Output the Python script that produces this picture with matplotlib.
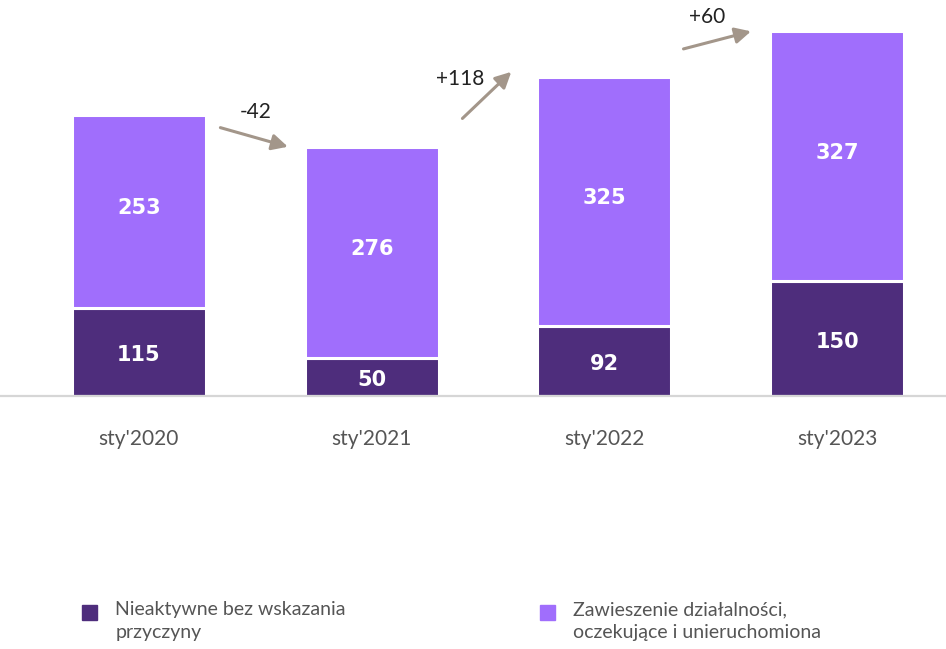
import matplotlib.pyplot as plt
from matplotlib.patches import Rectangle

# data
periods = ["sty'2020", "sty'2021", "sty'2022", "sty'2023"]
inactive = [115, 50, 92, 150]
suspended = [253, 276, 325, 327]
changes = ["-42", "+118", "+60"]
legend_labels = ["Nieaktywne bez wskazania\nprzyczyny",
                 "Zawieszenie działalności,\noczekujące i unieruchomiona"]

dark = '#4e2d7c'
light = '#a06efc'
arrow_col = '#a3968a'
txt_col = '#555555'

plt.rcParams['font.family'] = ['Lato', 'DejaVu Sans']

fig = plt.figure(figsize=(9.46, 6.49), dpi=100)
ax = fig.add_axes([0, 0.39, 1, 0.61])

x = list(range(len(periods)))
totals = [a + b for a, b in zip(inactive, suspended)]

ax.bar(x, inactive, width=0.575, color=dark, edgecolor='white', linewidth=2.2)
ax.bar(x, suspended, bottom=inactive, width=0.575, color=light,
       edgecolor='white', linewidth=2.2)

# value labels
for i in x:
    ax.text(i, inactive[i] / 2 - 4, str(inactive[i]), ha='center', va='center',
            color='white', fontsize=15, fontweight='bold', family='DejaVu Sans')
    ax.text(i, inactive[i] + suspended[i] / 2 + 4, str(suspended[i]), ha='center',
            va='center', color='white', fontsize=15, fontweight='bold',
            family='DejaVu Sans')

# change arrows between bars: (start dx, dy from bar i), (end dx, dy from bar i+1),
# (label dx, dy from bar i+1)
arrow_geom = [((0.35, -17), (0.64, 0), (0.50, 46)),
              ((0.39, 37), (0.60, 7), (0.38, -3)),
              ((0.34, 37), (0.63, 0), (0.44, 19))]
for i, (start, end, lab) in enumerate(arrow_geom):
    ax.annotate('', xy=(i + end[0], totals[i + 1] + end[1]),
                xytext=(i + start[0], totals[i] + start[1]),
                arrowprops=dict(arrowstyle='-|>,head_length=0.95,head_width=0.48',
                                color=arrow_col, lw=2.2, shrinkA=0, shrinkB=0))
    ax.text(i + lab[0], totals[i + 1] + lab[1], changes[i], ha='center',
            va='center', fontsize=15, color='#222222')

ax.set_xlim(-0.597, 3.468)
ax.set_ylim(0, 518)
ax.set_xticks(x)
ax.set_xticklabels(periods, fontsize=15, color=txt_col)
ax.tick_params(axis='x', length=0, pad=24)
ax.set_yticks([])
for s in ['top', 'left', 'right']:
    ax.spines[s].set_visible(False)
ax.spines['bottom'].set_color('#d6d6d6')
ax.spines['bottom'].set_linewidth(1.6)

# legend drawn by hand
for xpos, col, lab in [(0.087, dark, legend_labels[0]),
                       (0.571, light, legend_labels[1])]:
    fig.add_artist(Rectangle((xpos, 1 - 620 / 649), 15 / 946, 15 / 649,
                             transform=fig.transFigure, color=col))
    fig.text(xpos + 33 / 946, 1 - 601 / 649, lab, ha='left', va='top',
             fontsize=14, color=txt_col, linespacing=1.45)

fig.savefig('out.png', dpi=100)
